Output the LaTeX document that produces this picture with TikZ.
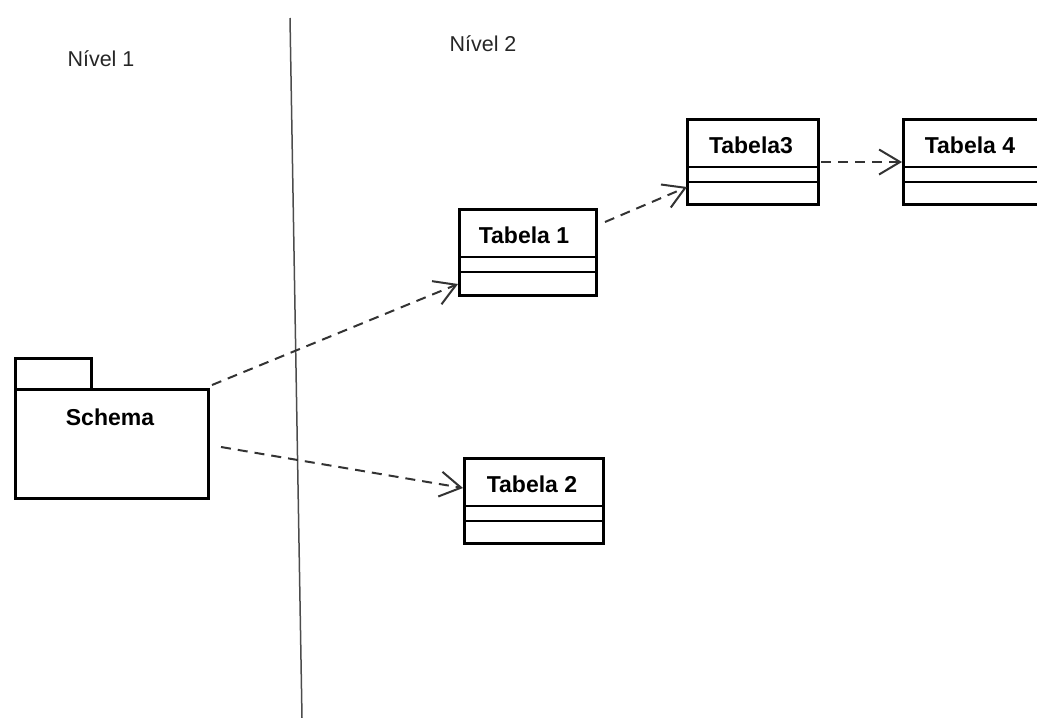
\documentclass[tikz,border=0pt]{standalone}
\usepackage{fontspec}
\setmainfont{Liberation Sans}
\usetikzlibrary{arrows.meta,calc}

\tikzset{
  frame/.style={draw, line width=3pt, inner sep=0pt, anchor=north west, fill=white},
  title/.style={font=\bfseries\fontsize{23}{27}\selectfont, inner sep=0pt},
  level/.style={font=\fontsize{21.5}{25}\selectfont, inner sep=0pt, text=black!85},
  sep/.style={line width=1.5pt},
  dep/.style={line width=2pt, dash pattern=on 10pt off 7pt, black!80,
    -{Straight Barb[length=21pt, width=25pt, line width=2pt]}},
  divider/.style={line width=1.5pt, black!70}
}

\begin{document}
\begin{tikzpicture}[x=1pt, y=-1pt]
  \useasboundingbox (0,0) rectangle (1037,718);
  \clip (0,0) rectangle (1037,718);

  % level captions and the dividing line
  \node[level] (n1) at (101,59) {Nível 1};
  \node[level] (n2) at (483,44) {Nível 2};
  \coordinate (dtop) at (290,18);
  \coordinate (dbot) at (302,718);
  \draw[divider] (dtop) -- (dbot);

  % package: Schema
  \node[frame, minimum width=76pt, minimum height=31pt] (tab) at (14,357) {};
  \node[frame, minimum width=193pt, minimum height=109pt] (schema) at (14,388) {};
  \node[title] (schemat) at (110,417) {Schema};

  % class boxes
  \node[frame, minimum width=137pt, minimum height=86pt] (t1) at (458,208) {};
  \node[frame, minimum width=139pt, minimum height=85pt] (t2) at (463,457) {};
  \node[frame, minimum width=131pt, minimum height=85pt] (t3) at (686,118) {};
  \node[frame, minimum width=160pt, minimum height=85pt] (t4) at (902,118) {};

  \foreach \b in {t1,t2,t3,t4}{
    \draw[sep] ($(\b.north west)+(0,49)$) -- ($(\b.north east)+(0,49)$);
    \draw[sep] ($(\b.north west)+(0,64)$) -- ($(\b.north east)+(0,64)$);
  }

  \node[title] (t1t) at (524,235) {Tabela 1};
  \node[title] (t2t) at (532,484) {Tabela 2};
  \node[title] (t3t) at (751,145) {Tabela3};
  \node[title] (t4t) at (970,145) {Tabela 4};

  % dependencies
  \draw[dep] ($(schema.north east)+(2,-3)$) -- ($(t1.south west)+(0,-13)$);
  \draw[dep] ($(schema.north east)+(11,59)$) -- ($(t2.north west)+(0,31)$);
  \draw[dep] ($(t1.north east)+(7,14)$) -- ($(t3.north west)+(1,69)$);
  \draw[dep] ($(t3.north east)+(1,44)$) -- ($(t4.north west)+(0,44)$);
\end{tikzpicture}
\end{document}
